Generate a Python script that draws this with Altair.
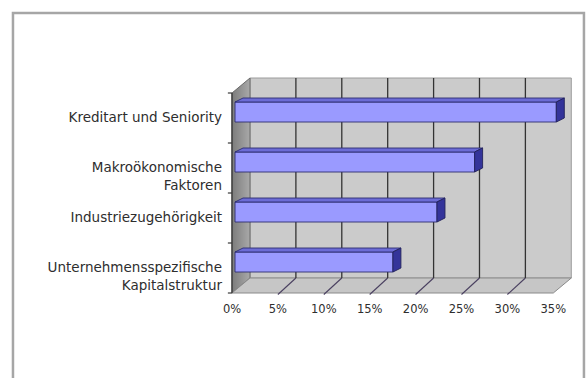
import altair as alt
import pandas as pd

# Source data: share of explained variation per factor group (in %)
categories = [
    "Kreditart und Seniority",
    "Makroökonomische Faktoren",
    "Industriezugehörigkeit",
    "Unternehmensspezifische Kapitalstruktur",
]
label_lines = [
    ["Kreditart und Seniority"],
    ["Makroökonomische", "Faktoren"],
    ["Industriezugehörigkeit"],
    ["Unternehmensspezifische", "Kapitalstruktur"],
]
shares = [35.0, 26.1, 22.0, 17.2]
tick_values = [0, 5, 10, 15, 20, 25, 30, 35]

# 3-D box geometry in data units (percent along x, category slots along y)
X_MAX = 35
DEPTH_X = 1.96
DEPTH_Y = 0.30
WALL_TOP = 4.0
BAR_SHIFT = 0.33
BAR_LOW, BAR_HIGH = -0.08, 0.32
BAR_DX, BAR_DY = 0.87, 0.08

n = len(categories)
slot = [n - 0.5 - i for i in range(n)]  # first category on top

xs = alt.Scale(domain=[0, 36.82], nice=False, zero=False)
ys = alt.Scale(domain=[-0.1, 4.4], nice=False, zero=False)


def X(f):
    return alt.X(f"{f}:Q", scale=xs, axis=None)


def Y(f):
    return alt.Y(f"{f}:Q", scale=ys, axis=None)


# chart-area border
frame = alt.Chart(pd.DataFrame({"x": [-23.86], "x2": [38.34], "y": [5.6], "y2": [-1.94]})).mark_rect(
    filled=False, stroke="#a6a6a6", strokeWidth=2.5, clip=False
).encode(x=X("x"), x2="x2", y=Y("y"), y2="y2")

# back wall
back = alt.Chart(pd.DataFrame({
    "x": [DEPTH_X], "x2": [X_MAX + DEPTH_X], "y": [DEPTH_Y], "y2": [WALL_TOP + DEPTH_Y]
})).mark_rect(fill="#cbcbcb", stroke="#9c9c9c", strokeWidth=1).encode(
    x=X("x"), x2="x2", y=Y("y"), y2="y2")

# left side wall
side = alt.Chart(pd.DataFrame({
    "x": [0, DEPTH_X], "y": [0, DEPTH_Y], "y2": [WALL_TOP, WALL_TOP + DEPTH_Y]
})).mark_area(
    color=alt.Gradient(gradient="linear", x1=0, x2=1, y1=0, y2=0,
                       stops=[alt.GradientStop(color="#7c7c7c", offset=0),
                              alt.GradientStop(color="#a9a9a9", offset=1)]),
    stroke="#6a6a6a", strokeWidth=1
).encode(x=X("x"), y=Y("y"), y2="y2")

# floor
floor = alt.Chart(pd.DataFrame({
    "y": [0, DEPTH_Y], "x": [0, DEPTH_X], "x2": [X_MAX, X_MAX + DEPTH_X]
})).mark_area(orient="horizontal", fill="#c6c6c6", stroke="#8a8a8a", strokeWidth=1).encode(
    y=Y("y"), x=X("x"), x2="x2")

grid_vals = [t for t in tick_values if 0 < t < X_MAX]

# gridlines on the back wall
grid = alt.Chart(pd.DataFrame({"t": grid_vals})).transform_calculate(
    gx=f"datum.t + {DEPTH_X}", gy=f"{DEPTH_Y}", gy2=f"{WALL_TOP + DEPTH_Y}"
).mark_rule(color="#333333", strokeWidth=1.3).encode(x=X("gx"), y=Y("gy"), y2="gy2")

# receding gridlines on the floor
diag = alt.Chart(pd.DataFrame({"t": grid_vals})).transform_calculate(
    dx2=f"datum.t + {DEPTH_X}", dy0="-0.03", dy2=f"{DEPTH_Y}"
).mark_rule(color="#4a4060", strokeWidth=1.1).encode(x=X("t"), x2="dx2", y=Y("dy0"), y2="dy2")

# category axis line and ticks
axis_line = alt.Chart(pd.DataFrame({"x": [0], "y": [0], "y2": [WALL_TOP]})).mark_rule(
    color="#3a3a3a", strokeWidth=1.3).encode(x=X("x"), y=Y("y"), y2="y2")
axis_ticks = alt.Chart(pd.DataFrame({"y": list(range(n + 1))})).transform_calculate(
    tx="-0.45", tx2="0").mark_rule(color="#3a3a3a", strokeWidth=1.2).encode(
    x=X("tx"), x2="tx2", y=Y("y"))

bars = pd.DataFrame({"name": categories, "v": shares, "c": slot})
bars["x0"] = BAR_SHIFT
bars["x1"] = bars["v"] + BAR_SHIFT
bars["ylo"] = bars["c"] + BAR_LOW
bars["yhi"] = bars["c"] + BAR_HIGH

front = alt.Chart(bars).mark_rect(fill="#9a9aff", stroke="#2c2c70", strokeWidth=0.9).encode(
    x=X("x0"), x2="x1", y=Y("ylo"), y2="yhi")

# top faces (horizontal parallelograms)
top_rows = []
for _, r in bars.iterrows():
    top_rows.append({"name": r["name"], "y": r["yhi"], "x": r["x0"], "x2": r["x1"]})
    top_rows.append({"name": r["name"], "y": r["yhi"] + BAR_DY,
                     "x": r["x0"] + BAR_DX, "x2": r["x1"] + BAR_DX})
tops = alt.Chart(pd.DataFrame(top_rows)).mark_area(
    orient="horizontal", fill="#6c6cd6", stroke="#2c2c70", strokeWidth=0.9).encode(
    y=Y("y"), x=X("x"), x2="x2", detail="name:N")

# end caps (vertical parallelograms)
cap_rows = []
for _, r in bars.iterrows():
    cap_rows.append({"name": r["name"], "x": r["x1"], "y": r["ylo"], "y2": r["yhi"]})
    cap_rows.append({"name": r["name"], "x": r["x1"] + BAR_DX,
                     "y": r["ylo"] + BAR_DY, "y2": r["yhi"] + BAR_DY})
caps = alt.Chart(pd.DataFrame(cap_rows)).mark_area(
    fill="#34349a", stroke="#22225a", strokeWidth=0.9).encode(
    x=X("x"), y=Y("y"), y2="y2", detail="name:N")

# category labels
labels = alt.Chart(pd.DataFrame({"lines": label_lines, "c": slot})).transform_calculate(
    lx="-1.09").mark_text(
    align="right", baseline="middle", font="DejaVu Sans", fontSize=13.5, lineHeight=18,
    color="#2e2e2e", clip=False).encode(x=X("lx"), y=Y("c"), text="lines")

# percent tick labels
xlabels = alt.Chart(pd.DataFrame({"t": tick_values})).transform_calculate(
    ly="-0.34", txt="datum.t + '%'").mark_text(
    align="center", baseline="middle", font="DejaVu Sans", fontSize=11.5,
    color="#2e2e2e", clip=False).encode(x=X("t"), y=Y("ly"), text="txt:N")

chart = alt.layer(
    frame, back, side, floor, grid, diag, axis_line, axis_ticks, front, tops, caps, labels, xlabels
).properties(
    width=338, height=225,
    padding={"left": 232, "top": 73, "right": 16, "bottom": 80},
    autosize="none",
).configure_view(stroke=None)

chart.save("out.html", embed_options={"renderer": "svg", "actions": False})
